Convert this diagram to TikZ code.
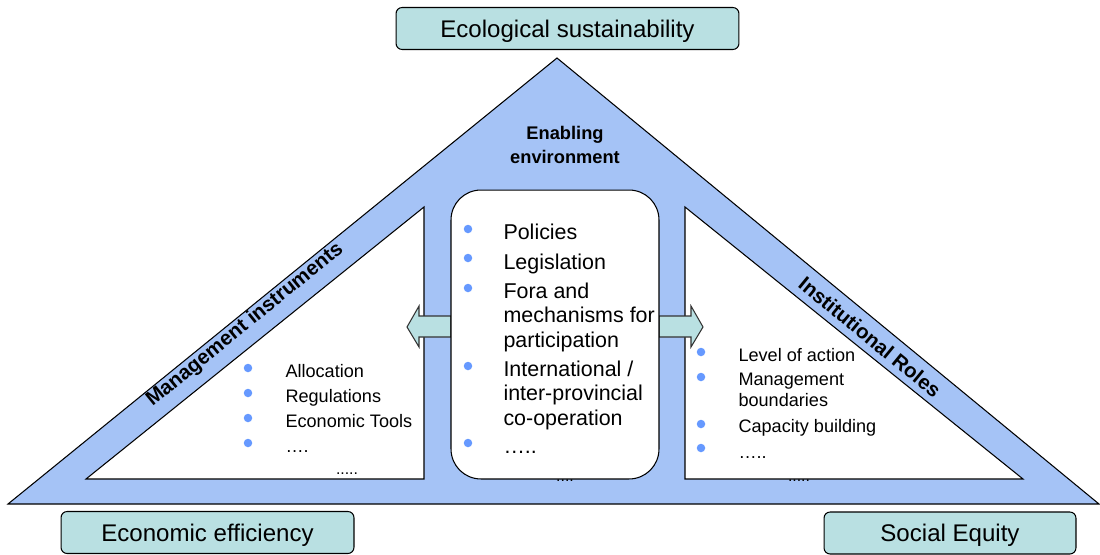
\documentclass[tikz,border=0pt]{standalone}
\usepackage{fontspec}
\setmainfont{Liberation Sans}
\usepackage{xcolor}
\usepackage{tikz}
\usetikzlibrary{positioning}
\definecolor{frameblue}{RGB}{165,195,246}
\definecolor{goalteal}{RGB}{185,224,226}
\definecolor{dotblue}{RGB}{102,153,255}

\begin{document}
\begin{tikzpicture}[x=0.02cm, y=-0.02cm, line width=0.6pt,
    goal/.style={rectangle, rounded corners=3.5pt, draw=black, fill=goalteal, minimum height=0.84cm, text depth=0pt, text centered, font=\fontsize{13.7}{16}\selectfont},
    item/.style={anchor=base west, inner sep=0pt, align=left, font=\fontsize{10.3}{11.4}\selectfont},
    bigitem/.style={anchor=base west, inner sep=0pt, align=left, font=\fontsize{12.2}{13.7}\selectfont},
    dot/.style={circle, fill=dotblue, inner sep=0pt, minimum size=0.17cm},
    band/.style={inner sep=0pt, font=\bfseries\fontsize{11.6}{13}\selectfont},
    etc/.style={inner sep=0pt, font=\fontsize{9}{10}\selectfont}
]
    \useasboundingbox (0,0) rectangle (1100,555);

    % Frame
    \filldraw[fill=frameblue, draw=black] (8,504) -- (557,58) -- (1099,504) -- cycle;
    \filldraw[fill=white, draw=black] (86,479) -- (424,207) -- (424,479) -- cycle;
    \filldraw[fill=white, draw=black] (685,207) -- (1023,479) -- (685,479) -- cycle;

    % Arrows
    \filldraw[fill=goalteal, draw=black!80] (451,316) -- (419,316) -- (419,306) -- (407,327)
        -- (419,347) -- (419,337) -- (451,337) -- cycle;
    \filldraw[fill=goalteal, draw=black!80] (659,316) -- (691,316) -- (691,306) -- (703,327)
        -- (691,347) -- (691,337) -- (659,337) -- cycle;

    % Enabling environment (base = last line)
    \node[draw=black, fill=white, rounded corners=17pt, minimum width=4.16cm, minimum height=5.78cm] (core) at (555,334.5) {};
    \node[inner sep=0pt, anchor=base, align=center, font=\bfseries\fontsize{10.4}{13.1}\selectfont] (enab) at (565,163) {Enabling\\environment};

    \foreach \y in {229,258,288,366,443}
        \node[dot] at (468,\y) {};
    \node[bigitem] (pol) at (503,239) {Policies};
    \node[bigitem] (leg) at (503,269) {Legislation};
    \node[bigitem] (fora) at (503,347) {Fora and\\mechanisms for\\participation};
    \node[bigitem] (intl) at (503,425) {International /\\inter-provincial\\co-operation};
    \node[bigitem] (more) at (503,453) {…..};

    % Management instruments
    \node[band, rotate=39.1] (mgmt) at (245,325) {Management instruments};
    \foreach \y in {368,393,418,443}
        \node[dot] at (248,\y) {};
    \node[item] (alloc) at (285,377) {Allocation};
    \node[item] (regs) at (285,402) {Regulations};
    \node[item] (tools) at (285,427) {Economic Tools};
    \node[item] (mgmtmore) at (285,452) {….};
    \node[etc] at (347,474) {.....};

    % Institutional roles
    \node[band, rotate=-39.4] (inst) at (870,337) {Institutional Roles};
    \foreach \y in {352,377,424,448}
        \node[dot] at (701,\y) {};
    \node[item] (level) at (738,361) {Level of action};
    \node[item] (bound) at (738,406) {Management\\boundaries};
    \node[item] (cap) at (738,432) {Capacity building};
    \node[item] (instmore) at (738,458) {…..};

    % Dots under the frame
    \node[etc] at (565,481) {....};
    \node[etc] at (799,481) {.....};

    % Goals
    \node[goal, minimum width=6.86cm] (eco) at (567.5,28.5) {Ecological sustainability};
    \node[goal, minimum width=5.86cm] (econ) at (207.5,532.5) {Economic efficiency};
    \node[goal, minimum width=5.04cm] (social) at (950,533) {Social Equity};
\end{tikzpicture}
\end{document}
